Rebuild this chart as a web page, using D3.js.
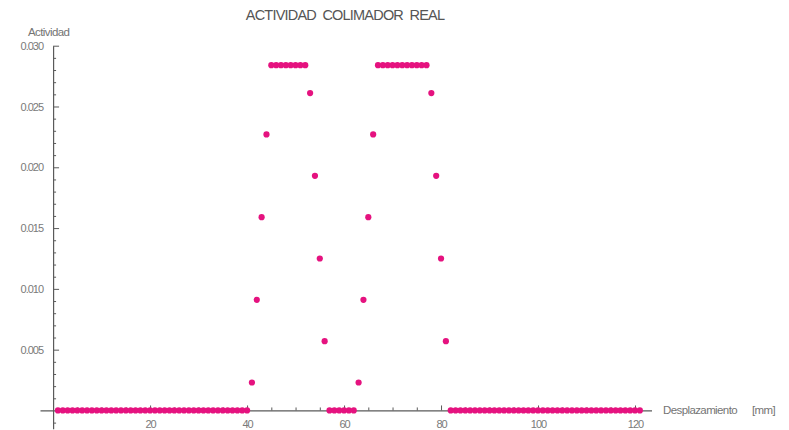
<!DOCTYPE html>
<html>
<head>
<meta charset="utf-8">
<script src="https://cdn.jsdelivr.net/npm/d3@7"></script>
<style>
  html, body { margin: 0; padding: 0; background: #fff; }
  svg { display: block; }
  text { font-family: "Liberation Sans", Arial, sans-serif; fill: #707070; }
  .title { font-size: 14.5px; fill: #555; letter-spacing: -0.8px; }
  .lab { font-size: 11.5px; letter-spacing: -0.6px; fill: #747474; }
  .tick text { font-size: 11px; letter-spacing: -1px; fill: #7a7a7a; }
  .axis path, .axis line { stroke: #5a5a5a; }
</style>
</head>
<body>
<svg id="chart" width="789" height="430"></svg>
<script>
// Desplazamiento del colimador (mm)
const desplazamiento = [
  1, 2, 3, 4, 5, 6, 7, 8, 9, 10, 11, 12, 13, 14, 15, 16, 17, 18, 19, 20,
  21, 22, 23, 24, 25, 26, 27, 28, 29, 30, 31, 32, 33, 34, 35, 36, 37, 38, 39, 40,
  41, 42, 43, 44, 45, 46, 47, 48, 49, 50, 51, 52, 53, 54, 55, 56, 57, 58, 59, 60,
  61, 62, 63, 64, 65, 66, 67, 68, 69, 70, 71, 72, 73, 74, 75, 76, 77, 78, 79, 80,
  81, 82, 83, 84, 85, 86, 87, 88, 89, 90, 91, 92, 93, 94, 95, 96, 97, 98, 99, 100,
  101, 102, 103, 104, 105, 106, 107, 108, 109, 110, 111, 112, 113, 114, 115, 116, 117, 118, 119, 120,
  121
];

// Actividad medida en cada posición
const actividad = [
  0, 0, 0, 0, 0, 0, 0, 0, 0, 0, 0, 0, 0, 0, 0, 0, 0, 0, 0, 0,
  0, 0, 0, 0, 0, 0, 0, 0, 0, 0, 0, 0, 0, 0, 0, 0, 0, 0, 0, 0,
  0.0023, 0.0091, 0.0159, 0.0227, 0.0284, 0.0284, 0.0284, 0.0284, 0.0284, 0.0284, 0.0284, 0.0284,
  0.0261, 0.0193, 0.0125, 0.0057,
  0, 0, 0, 0, 0, 0,
  0.0023, 0.0091, 0.0159, 0.0227, 0.0284, 0.0284, 0.0284, 0.0284, 0.0284, 0.0284, 0.0284, 0.0284,
  0.0284, 0.0284, 0.0284,
  0.0261, 0.0193, 0.0125, 0.0057,
  0, 0, 0, 0, 0, 0, 0, 0, 0, 0, 0, 0, 0, 0, 0, 0, 0, 0, 0, 0,
  0, 0, 0, 0, 0, 0, 0, 0, 0, 0, 0, 0, 0, 0, 0, 0, 0, 0, 0, 0
];

const xTicksMajor = [20, 40, 60, 80, 100, 120];
const xTicksMinor = [5, 10, 15, 25, 30, 35, 45, 50, 55, 65, 70, 75, 85, 90, 95, 105, 110, 115];
const yTicksMajor = [0.005, 0.010, 0.015, 0.020, 0.025, 0.030];
const yTicksMinor = [-0.001, 0.001, 0.002, 0.003, 0.004, 0.006, 0.007, 0.008, 0.009,
  0.011, 0.012, 0.013, 0.014, 0.016, 0.017, 0.018, 0.019,
  0.021, 0.022, 0.023, 0.024, 0.026, 0.027, 0.028, 0.029];

const titulo = "ACTIVIDAD  COLIMADOR  REAL";
const etiquetaY = "Actividad";
const etiquetaX = "Desplazamiento";
const unidadX = "[mm]";

// Espacios duros para conservar los dobles espacios del título
const nbsp = s => s.replace(/ /g, "\u00a0");

const svg = d3.select("#chart");

const x = d3.scaleLinear().domain([-2.7, 123.4]).range([40, 651.5]);
const y = d3.scaleLinear().domain([-0.0015, 0.030]).range([428.7, 45.7]);

const x0 = x(0), y0 = y(0);

// Eje horizontal: marcas menores y mayores hacia arriba
const gx = svg.append("g").attr("class", "axis").attr("transform", `translate(0,${y0})`);
gx.call(d3.axisBottom(x).tickValues(xTicksMinor).tickSize(-3).tickSizeOuter(0).tickFormat(""));
gx.append("g").call(d3.axisBottom(x).tickValues(xTicksMajor).tickSize(-5).tickSizeOuter(0).tickPadding(10))
  .call(g => g.select(".domain").remove());

// Eje vertical: marcas hacia la derecha
const gy = svg.append("g").attr("class", "axis").attr("transform", `translate(${x0},0)`);
gy.call(d3.axisLeft(y).tickValues(yTicksMinor).tickSize(-3).tickSizeOuter(0).tickFormat(""));
gy.append("g").call(d3.axisLeft(y).tickValues(yTicksMajor).tickSize(-6).tickSizeOuter(0).tickPadding(10)
    .tickFormat(d3.format(".3f")))
  .call(g => g.select(".domain").remove());

svg.selectAll(".axis path.domain").attr("stroke-width", 1.2);
svg.selectAll(".tick text").attr("font-family", null).attr("font-size", null);

// Puntos de la medición
svg.append("g")
  .selectAll("circle")
  .data(desplazamiento.map((d, i) => [d, actividad[i]]))
  .join("circle")
  .attr("cx", d => x(d[0]))
  .attr("cy", d => y(d[1]))
  .attr("r", 3.1)
  .attr("fill", "#e5127f");

// Textos
svg.append("text").attr("class", "title")
  .attr("x", 345).attr("y", 20).attr("text-anchor", "middle").text(nbsp(titulo));
svg.append("text").attr("class", "lab")
  .attr("x", 28).attr("y", 36).text(etiquetaY);
svg.append("text").attr("class", "lab")
  .attr("x", 663).attr("y", 414).text(etiquetaX);
svg.append("text").attr("class", "lab")
  .attr("x", 752).attr("y", 414).text(unidadX);
</script>
</body>
</html>
